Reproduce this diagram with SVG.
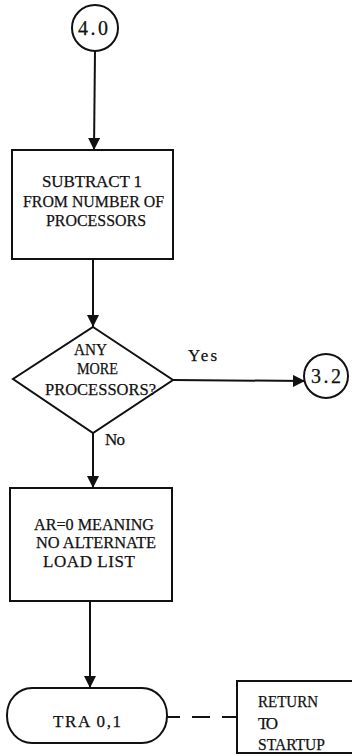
<svg xmlns="http://www.w3.org/2000/svg" width="355" height="756" viewBox="0 0 355 756">
<defs>
<style>
.s{fill:none;stroke:#111;stroke-width:2}
.t{font-family:"Liberation Serif","Times New Roman",serif;font-size:17px;fill:#111;stroke:#111;stroke-width:0.25}
.b{font-size:20px}
.c{fill:none;stroke:#111;stroke-width:2}
</style>
<marker id="ah" markerWidth="12" markerHeight="12" viewBox="0 0 12 12" refX="12" refY="6" orient="auto" markerUnits="userSpaceOnUse">
<path d="M0,0 L12,6 L0,12 Z" fill="#111"/>
</marker>
</defs>
<rect width="355" height="756" fill="#fff"/>
<g id="connectors">
<line class="c" x1="95" y1="51" x2="94" y2="150" marker-end="url(#ah)"/>
<line class="c" x1="93" y1="259" x2="93" y2="327" marker-end="url(#ah)"/>
<line class="c" x1="173" y1="380" x2="305" y2="381" marker-end="url(#ah)"/>
<line class="c" x1="93" y1="433" x2="93" y2="488" marker-end="url(#ah)"/>
<line class="c" x1="90" y1="601" x2="90" y2="688" marker-end="url(#ah)"/>
<line class="c" x1="167" y1="717" x2="237" y2="717" stroke-dasharray="13 12 18 12 16"/>
<text class="t" x="188" y="361" textLength="29" lengthAdjust="spacing">Yes</text>
<text class="t" x="105" y="445" textLength="20" lengthAdjust="spacing">No</text>
</g>
<g id="n40">
<circle class="s" cx="95" cy="28" r="23"/>
<text class="t b" x="78" y="35" textLength="30" lengthAdjust="spacing">4.0</text>
</g>
<g id="subtract">
<rect class="s" x="12" y="150" width="161" height="109"/>
<text class="t" x="42" y="187" textLength="100" lengthAdjust="spacing">SUBTRACT 1</text>
<text class="t" x="23" y="207" textLength="141" lengthAdjust="spacingAndGlyphs">FROM NUMBER OF</text>
<text class="t" x="46" y="226" textLength="100" lengthAdjust="spacingAndGlyphs">PROCESSORS</text>
</g>
<g id="decision">
<polygon class="s" points="93,327 173,380 93,433 13,379"/>
<text class="t" x="74" y="355" textLength="33" lengthAdjust="spacingAndGlyphs">ANY</text>
<text class="t" x="77" y="374" textLength="41" lengthAdjust="spacingAndGlyphs">MORE</text>
<text class="t" x="45" y="395" textLength="111" lengthAdjust="spacingAndGlyphs">PROCESSORS?</text>
</g>
<g id="n32">
<circle class="s" cx="326" cy="376" r="22"/>
<text class="t b" x="311" y="383" textLength="30" lengthAdjust="spacing">3.2</text>
</g>
<g id="ar0">
<rect class="s" x="10" y="488" width="162" height="113"/>
<text class="t" x="34" y="530" textLength="120" lengthAdjust="spacingAndGlyphs">AR=0 MEANING</text>
<text class="t" x="36" y="548" textLength="120" lengthAdjust="spacingAndGlyphs">NO ALTERNATE</text>
<text class="t" x="43" y="567" textLength="92" lengthAdjust="spacing">LOAD LIST</text>
</g>
<g id="tra">
<rect class="s" x="7" y="688" width="160" height="55" rx="25" ry="27"/>
<text class="t" x="53" y="727" font-size="18" textLength="68" lengthAdjust="spacing">TRA 0,1</text>
</g>
<g id="note">
<path class="s" d="M352,681 H237 V753 H352"/>
<text class="t" x="258" y="707" textLength="60" lengthAdjust="spacingAndGlyphs">RETURN</text>
<text class="t" x="258" y="729" textLength="20" lengthAdjust="spacing">TO</text>
<text class="t" x="258" y="750" textLength="67" lengthAdjust="spacingAndGlyphs">STARTUP</text>
</g>
</svg>
